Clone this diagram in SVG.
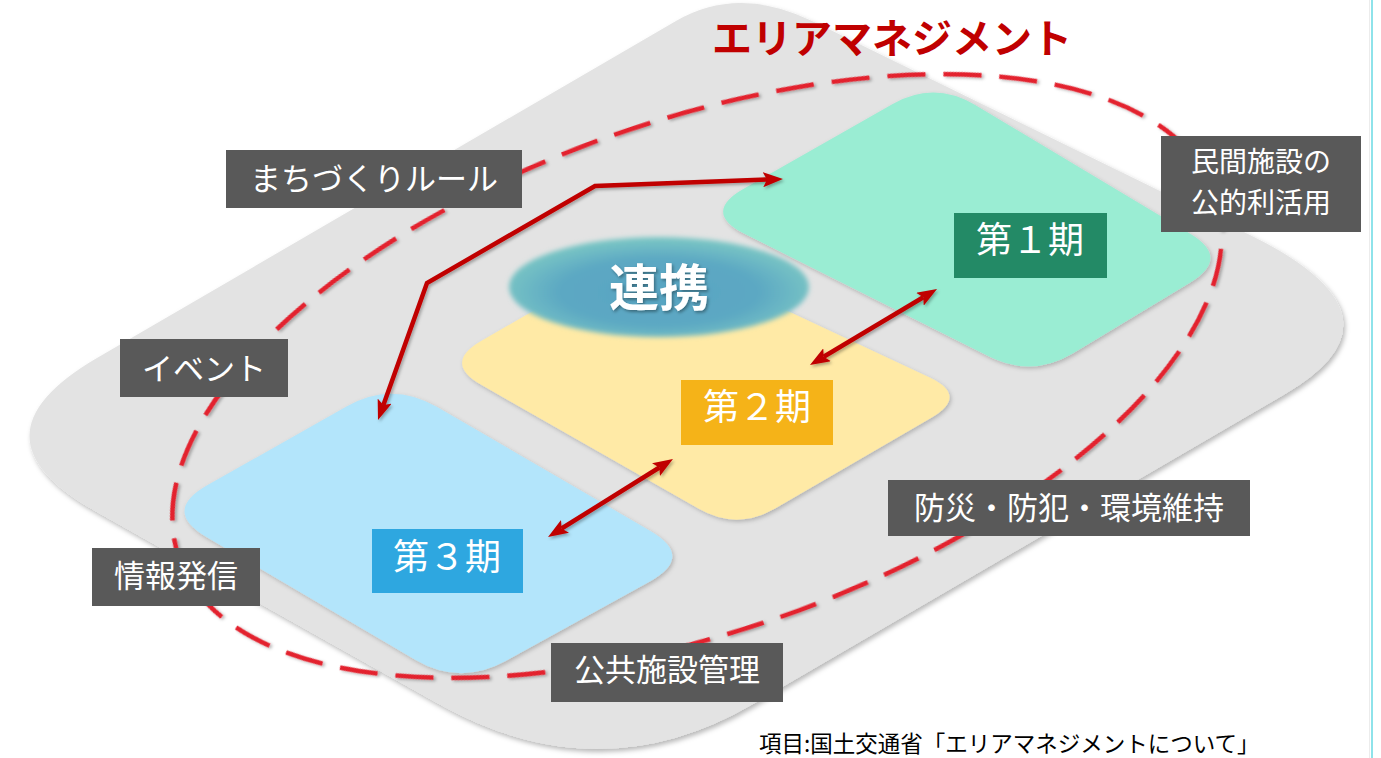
<svg xmlns="http://www.w3.org/2000/svg" width="1381" height="758" viewBox="0 0 1381 758">
<style>
.lbl{font-family:"Noto Sans CJK JP","Noto Sans",sans-serif;font-size:31px;fill:#ffffff;text-anchor:middle}
.lbl2{font-family:"Noto Sans CJK JP","Noto Sans",sans-serif;font-size:28px;fill:#ffffff;text-anchor:middle}
.box{fill:#595959}
.per{font-family:"Noto Sans CJK JP","Noto Sans",sans-serif;font-size:36px;fill:#ffffff;text-anchor:middle}
.arr{fill:none;stroke:#c00000;stroke-width:4.5;stroke-linejoin:miter;marker-start:url(#ah);marker-end:url(#ah);filter:url(#sh2)}
.tile{filter:url(#sh1)}
</style>
<defs>
<filter id="sh0" x="-10%" y="-10%" width="120%" height="125%"><feDropShadow dx="2" dy="3" stdDeviation="2.5" flood-color="#000" flood-opacity="0.28"/></filter>
<filter id="sh1" x="-10%" y="-10%" width="120%" height="125%"><feDropShadow dx="1.5" dy="2" stdDeviation="2" flood-color="#000" flood-opacity="0.22"/></filter>
<filter id="sh2" x="-20%" y="-20%" width="140%" height="140%"><feDropShadow dx="1.5" dy="2" stdDeviation="1.5" flood-color="#000" flood-opacity="0.3"/></filter>
<filter id="blur" x="-10%" y="-20%" width="120%" height="140%"><feGaussianBlur stdDeviation="2.5"/></filter>
<filter id="tsh" x="-10%" y="-20%" width="120%" height="140%"><feDropShadow dx="1.5" dy="2" stdDeviation="1.5" flood-color="#000" flood-opacity="0.35"/></filter>
<radialGradient id="eg" cx="0.5" cy="0.55" r="0.55">
<stop offset="0" stop-color="#58a4c2"/>
<stop offset="0.6" stop-color="#5ca8c3"/>
<stop offset="1" stop-color="#7cc8c4"/>
</radialGradient>
<marker id="ah" viewBox="0 0 20 15" markerUnits="userSpaceOnUse" markerWidth="20" markerHeight="15" refX="4" refY="7.5" orient="auto-start-reverse">
<path d="M0,0 L20,7.5 L0,15 L4,7.5 Z" fill="#c00000"/>
</marker>
</defs>
<rect width="1381" height="758" fill="#ffffff"/>
<line x1="1372" y1="0" x2="1372" y2="758" stroke="#8ee3ea" stroke-width="2"/>
<line x1="1369.5" y1="0" x2="1369.5" y2="758" stroke="#ececec" stroke-width="1"/>

<g id="base">
<path d="M97,358 L676,21 Q738,-15 812,21 L1250,235 Q1417,317 1285,394 L753,704 Q599,794 439,704 L97,512 Q-38,437 97,358 Z" fill="#e3e3e3" filter="url(#sh0)"/>
</g>

<g id="tile1" class="tile">
<path d="M743.7,188.8 L892.3,104.2 Q934,80.5 975.2,105.1 L1189.8,233.4 Q1231,258 1189.9,282.8 L1073.1,353.2 Q1032,378 989.1,356.5 L744.9,234 Q702,212.5 743.7,188.8 Z" fill="#9aedd3"/>
</g>
<g id="tile2" class="tile">
<path d="M481.1,341 L608.9,267 Q647,245 686.8,263.7 L929.2,377.3 Q969,396 930.9,418.1 L775.1,508.5 Q737,530.6 698.8,508.8 L481.2,384.8 Q443,363 481.1,341 Z" fill="#ffeaa6"/>
</g>
<g id="tile3" class="tile">
<path d="M207.2,485.3 L346.5,406.4 Q391.7,380.7 436.7,406.8 L650,530.7 Q695,556.8 649.4,581.8 L505.6,661 Q460,686 415.2,659.7 L206.8,537.3 Q162,511 207.2,485.3 Z" fill="#b3e5fb"/>
</g>

<g id="area-ellipse">
<ellipse cx="697" cy="376" rx="549" ry="255" transform="rotate(-19.4 697 376)" fill="none" stroke="#e3202d" stroke-width="4.5" stroke-dasharray="38 18" filter="url(#sh2)"/>
</g>

<g id="renkei">
<ellipse cx="659" cy="287" rx="150" ry="50" fill="url(#eg)" filter="url(#blur)"/>
<text x="659" y="306" font-family="'Noto Sans CJK JP','Noto Sans',sans-serif" font-size="50" font-weight="bold" fill="#ffffff" text-anchor="middle" filter="url(#tsh)">連携</text>
</g>

<g id="connectors">
<path class="arr" d="M383.4,404.9 L427,283 L595,186 L767,179.6"/>
<path class="arr" d="M823.7,356.8 L923.3,297.2"/>
<path class="arr" d="M561.6,528.5 L659.4,467.5"/>
</g>

<g id="p1">
<rect x="954" y="213" width="153" height="65" fill="#238a66"/>
<text class="per" x="1030" y="253">第１期</text>
</g>
<g id="p2">
<rect x="681" y="380" width="152" height="65" fill="#f5b318"/>
<text class="per" x="757" y="420">第２期</text>
</g>
<g id="p3">
<rect x="372" y="529" width="151" height="64" fill="#2ea7e0"/>
<text class="per" x="447" y="570">第３期</text>
</g>

<g id="l-rule">
<rect class="box" x="226" y="150" width="296" height="58"/>
<text class="lbl" x="374" y="190">まちづくりルール</text>
</g>
<g id="l-minkan">
<rect class="box" x="1161" y="136" width="200" height="96"/>
<text class="lbl2" x="1261" y="172">民間施設の</text>
<text class="lbl2" x="1261" y="213">公的利活用</text>
</g>
<g id="l-event">
<rect class="box" x="120" y="339" width="168" height="58"/>
<text class="lbl" x="204" y="380">イベント</text>
</g>
<g id="l-info">
<rect class="box" x="92" y="548" width="168" height="58"/>
<text class="lbl" x="176" y="587">情報発信</text>
</g>
<g id="l-public">
<rect class="box" x="551" y="643" width="232" height="59"/>
<text class="lbl" x="667" y="681">公共施設管理</text>
</g>
<g id="l-bousai">
<rect class="box" x="888" y="480" width="362" height="56"/>
<text class="lbl" x="1069" y="519">防災・防犯・環境維持</text>
</g>

<g id="title">
<text x="892" y="53" font-family="'Noto Sans CJK JP','Noto Sans',sans-serif" font-size="40" font-weight="bold" fill="#c00000" text-anchor="middle">エリアマネジメント</text>
</g>
<g id="footer">
<text x="759" y="752" font-family="'Noto Sans CJK JP','Noto Sans',sans-serif" font-size="22.5" fill="#000000">項目:国土交通省「エリアマネジメントについて」</text>
</g>
</svg>
